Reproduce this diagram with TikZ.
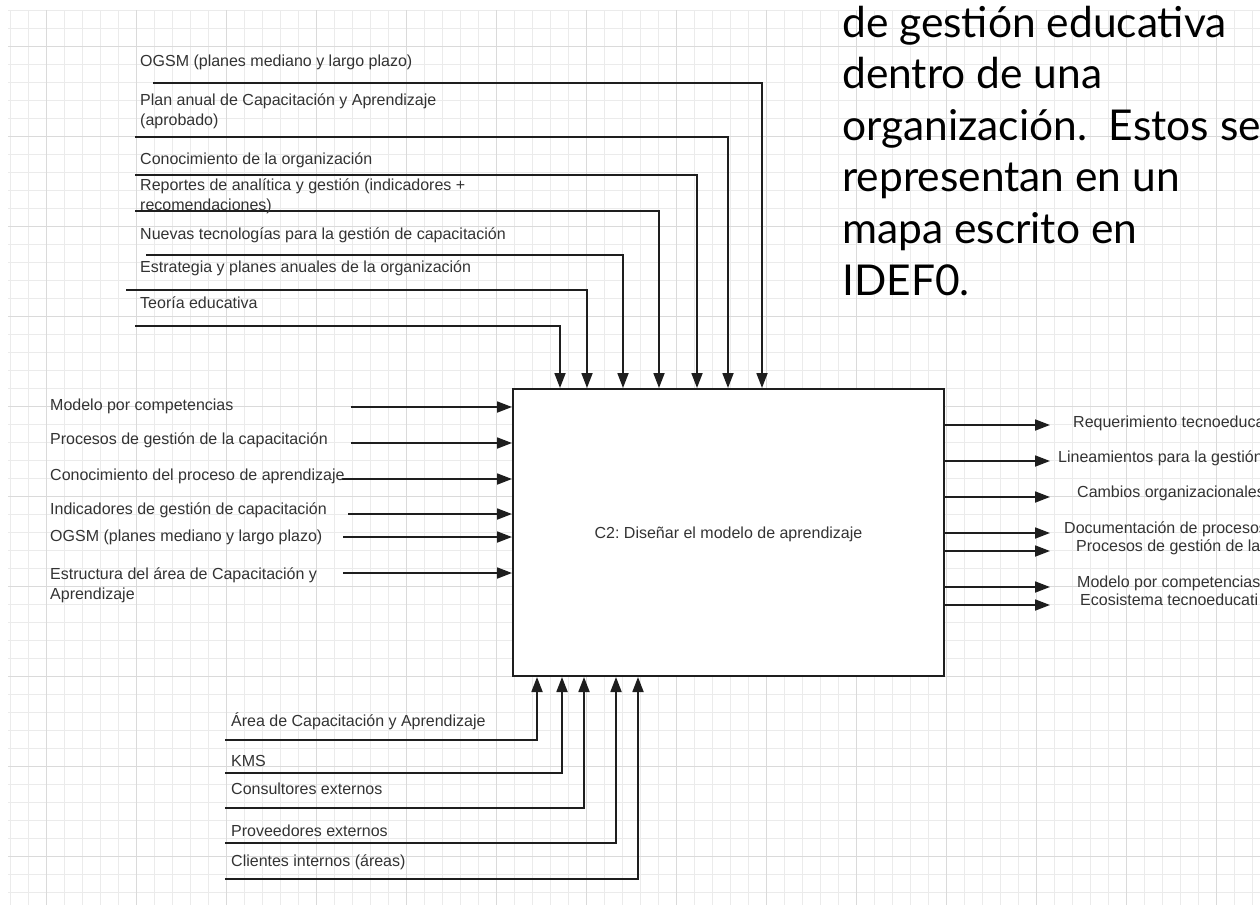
\documentclass[tikz,border=0pt]{standalone}
\usepackage{fontspec}
\setmainfont{Liberation Sans}
\newfontfamily\bigfont{Lato}
\usetikzlibrary{arrows.meta}
\definecolor{gridminor}{HTML}{EBEBEB}
\definecolor{gridmajor}{HTML}{DADADA}
\definecolor{ink}{HTML}{1E1E1E}
\definecolor{txt}{HTML}{333333}
\tikzset{
  conn/.style={draw=ink, line width=1.8pt},
  arr/.style={conn, -{Triangle[length=15pt,width=11pt]}},
  lbl/.style={anchor=base west, inner sep=0pt, text=txt, font=\fontsize{16}{19}\selectfont},
  bigtxt/.style={anchor=base west, inner sep=0pt, text=black, font=\bigfont\fontsize{42.5}{50}\selectfont},
  procbox/.style={draw=ink, line width=2pt, fill=white, inner sep=0pt}
}
\frenchspacing
\begin{document}
\begin{tikzpicture}[x=1pt,y=-1pt]
\useasboundingbox (0,0) rectangle (1260,905);
\clip (0,0) rectangle (1260,905);
\fill[white] (0,0) rectangle (1260,905);
% grid
\foreach \k in {0,...,69} \draw[gridminor, line width=1pt] ({10+18*\k},10) -- ({10+18*\k},905);
\foreach \k in {0,...,49} \draw[gridminor, line width=1pt] (8,{10+18*\k}) -- (1260,{10+18*\k});
\foreach \k in {0,...,13} \draw[gridmajor, line width=1pt] ({46+90*\k},10) -- ({46+90*\k},905);
\foreach \k in {0,...,9} \draw[gridmajor, line width=1pt] (8,{46+90*\k}) -- (1260,{46+90*\k});

% big text
\node[bigtxt] (g1) at (842,37.7) {de gestión educativa};
\node[bigtxt] (g2) at (842,88.3) {dentro de una};
\node[bigtxt] (g3) at (842,140) {organización.\ \ Estos se};
\node[bigtxt] (g4) at (842,191.7) {representan en un};
\node[bigtxt] (g5) at (842,243.3) {mapa escrito en};
\node[bigtxt] (g6) at (842,295) {IDEF0.};

% process box
\node[procbox, minimum width=431pt, minimum height=287pt] (box) at (728.5,532.5) {};
\node[lbl, anchor=base] (boxlabel) at (728.5,538) {C2: Diseñar el modelo de aprendizaje};

% controls
\coordinate (c1s) at (153,83);  \coordinate (c1) at (762,83);
\coordinate (c2s) at (135,137); \coordinate (c2) at (728,137);
\coordinate (c3s) at (135,175); \coordinate (c3) at (697,175);
\coordinate (c4s) at (135,211); \coordinate (c4) at (659,211);
\coordinate (c5s) at (146,255); \coordinate (c5) at (623,255);
\coordinate (c6s) at (126,290); \coordinate (c6) at (587,290);
\coordinate (c7s) at (135,326); \coordinate (c7) at (560,326);
\foreach \c in {c1,c2,c3,c4,c5,c6,c7}
  \draw[arr] (\c s) -- (\c) -- (\c |- box.north);

\node[lbl] (t1) at (140,66) {OGSM (planes mediano y largo plazo)};
\node[lbl] (t2a) at (140,105) {Plan anual de Capacitación y Aprendizaje};
\node[lbl] (t2b) at (140,125) {(aprobado)};
\node[lbl] (t3) at (140,164) {Conocimiento de la organización};
\node[lbl] (t4a) at (140,190.5) {Reportes de analítica y gestión (indicadores +};
\node[lbl] (t4b) at (140,210) {recomendaciones)};
\node[lbl] (t5) at (140,239) {Nuevas tecnologías para la gestión de capacitación};
\node[lbl] (t6) at (140,272) {Estrategia y planes anuales de la organización};
\node[lbl] (t7) at (140,308) {Teoría educativa};

% inputs
\coordinate (i1) at (351,407);
\coordinate (i2) at (351,443);
\coordinate (i3) at (342,479);
\coordinate (i4) at (348,514);
\coordinate (i5) at (343,537);
\coordinate (i6) at (343,573);
\foreach \c in {i1,i2,i3,i4,i5,i6}
  \draw[arr] (\c) -- (\c -| box.west);

\node[lbl] (l1) at (50,410.5) {Modelo por competencias};
\node[lbl] (l2) at (50,444.5) {Procesos de gestión de la capacitación};
\node[lbl] (l3) at (50,480.5) {Conocimiento del proceso de aprendizaje};
\node[lbl] (l4) at (50,514) {Indicadores de gestión de capacitación};
\node[lbl] (l5) at (50,541.5) {OGSM (planes mediano y largo plazo)};
\node[lbl] (l6a) at (50,579) {Estructura del área de Capacitación y};
\node[lbl] (l6b) at (50,599) {Aprendizaje};

% outputs
\coordinate (o1) at (1050,425);
\coordinate (o2) at (1050,461);
\coordinate (o3) at (1050,497);
\coordinate (o4) at (1050,533);
\coordinate (o5) at (1050,551);
\coordinate (o6) at (1050,587);
\coordinate (o7) at (1050,605);
\foreach \c in {o1,o2,o3,o4,o5,o6,o7}
  \draw[arr] (\c -| box.east) -- (\c);

\node[lbl] (r1) at (1073,427) {Requerimiento tecnoeduca};
\node[lbl] (r2) at (1058,462) {Lineamientos para la gestión};
\node[lbl] (r3) at (1077,497) {Cambios organizacionales};
\node[lbl] (r4) at (1064,533) {Documentación de procesos};
\node[lbl] (r5) at (1076,551) {Procesos de gestión de la};
\node[lbl] (r6) at (1077,587) {Modelo por competencias};
\node[lbl] (r7) at (1080,605) {Ecosistema tecnoeducati};

% mechanisms
\coordinate (m1s) at (225,740); \coordinate (m1) at (537,740);
\coordinate (m2s) at (225,773); \coordinate (m2) at (562,773);
\coordinate (m3s) at (225,808); \coordinate (m3) at (584,808);
\coordinate (m4s) at (225,843); \coordinate (m4) at (616,843);
\coordinate (m5s) at (225,879); \coordinate (m5) at (638,879);
\foreach \c in {m1,m2,m3,m4,m5}
  \draw[arr] (\c s) -- (\c) -- (\c |- box.south);

\node[lbl] (b1) at (231,726) {Área de Capacitación y Aprendizaje};
\node[lbl] (b2) at (231,766.5) {KMS};
\node[lbl] (b3) at (231,794) {Consultores externos};
\node[lbl] (b4) at (231,836.5) {Proveedores externos};
\node[lbl] (b5) at (231,866.5) {Clientes internos (áreas)};
\end{tikzpicture}
\end{document}
